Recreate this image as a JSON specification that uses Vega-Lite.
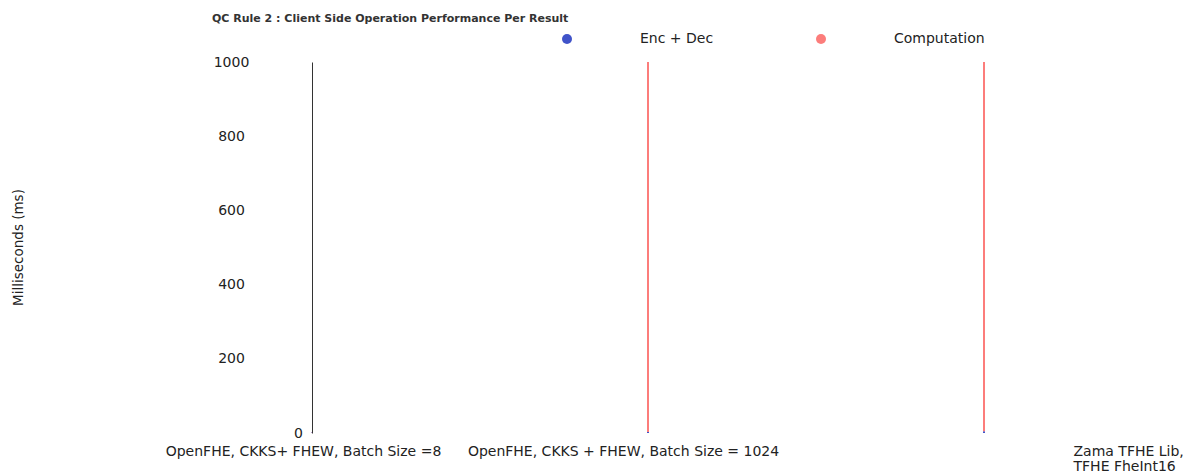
{
  "$schema": "https://vega.github.io/schema/vega-lite/v6.json",
  "autosize": {"type": "none"},
  "width": 672,
  "height": 371,
  "padding": {"left": 312, "top": 62, "right": 201, "bottom": 40},
  "background": "white",
  "config": {
    "font": "DejaVu Sans",
    "view": {"stroke": null}
  },
  "title": {
    "text": "QC Rule 2 : Client Side Operation Performance Per Result",
    "anchor": "start",
    "frame": "group",
    "dx": -100,
    "offset": 8,
    "fontSize": 11,
    "fontWeight": "bold",
    "color": "#333333",
    "font": "DejaVu Sans"
  },
  "data": {
    "values": [
      {"Library": "OpenFHE, CKKS+ FHEW, Batch Size =8", "Part": "Enc + Dec", "ms": 1.2},
      {"Library": "OpenFHE, CKKS+ FHEW, Batch Size =8", "Part": "Computation", "ms": 0.8},
      {"Library": "OpenFHE, CKKS + FHEW, Batch Size = 1024", "Part": "Enc + Dec", "ms": 3},
      {"Library": "OpenFHE, CKKS + FHEW, Batch Size = 1024", "Part": "Computation", "ms": 1850},
      {"Library": "Zama TFHE Lib, TFHE FheInt16", "Part": "Enc + Dec", "ms": 5},
      {"Library": "Zama TFHE Lib, TFHE FheInt16", "Part": "Computation", "ms": 4200}
    ]
  },
  "mark": {"type": "bar", "size": 2},
  "encoding": {
    "x": {
      "field": "Library",
      "type": "nominal",
      "sort": null,
      "scale": {"type": "point", "padding": 0},
      "axis": {
        "title": null,
        "domain": false,
        "ticks": false,
        "tickSize": 0,
        "labelAngle": 0,
        "labelFontSize": 14,
        "labelColor": "#222222",
        "labelPadding": 11,
        "labelLineHeight": 15,
        "labelOverlap": false,
        "labelLimit": 0,
        "labelExpr": "datum.label == 'Zama TFHE Lib, TFHE FheInt16' ? ['Zama TFHE Lib,', 'TFHE FheInt16'] : datum.label",
        "labelAlign": {"condition": {"test": "datum.value == 'Zama TFHE Lib, TFHE FheInt16'", "value": "left"}, "value": "center"},
        "labelOffset": {"condition": [
          {"test": "datum.value == 'Zama TFHE Lib, TFHE FheInt16'", "value": 89},
          {"test": "datum.value == 'OpenFHE, CKKS + FHEW, Batch Size = 1024'", "value": -25}
        ], "value": -9}
      }
    },
    "y": {
      "field": "ms",
      "type": "quantitative",
      "stack": "zero",
      "scale": {"domain": [0, 1000], "nice": false, "clamp": true},
      "axis": {
        "title": "Milliseconds (ms)",
        "titleFontSize": 13.5,
        "titleFontWeight": "normal",
        "titleColor": "#222222",
        "titleX": -294,
        "titleY": 185,
        "titleBaseline": "middle",
        "values": [0, 200, 400, 600, 800, 1000],
        "format": "d",
        "grid": false,
        "ticks": false,
        "tickSize": 0,
        "domainColor": "#333333",
        "domainWidth": 1,
        "labelFontSize": 14,
        "labelColor": "#222222",
        "labelAlign": "center",
        "labelFlush": false,
        "labelOverlap": false,
        "labelPadding": {"condition": {"test": "datum.value == 0", "value": 14}, "value": 81},
        "zindex": 1
      }
    },
    "color": {
      "field": "Part",
      "type": "nominal",
      "scale": {"domain": ["Enc + Dec", "Computation"], "range": ["#4053c9", "#fc7d7b"]},
      "legend": {
        "title": null,
        "orient": "none",
        "direction": "horizontal",
        "legendX": 248,
        "legendY": -30,
        "padding": 0,
        "symbolType": "circle",
        "symbolSize": 100,
        "symbolStrokeWidth": 0,
        "symbolOpacity": 1,
        "labelFontSize": 14,
        "labelColor": "#222222",
        "labelOffset": 66,
        "columnPadding": 100
      }
    },
    "order": {"field": "Part", "sort": "descending"}
  }
}
